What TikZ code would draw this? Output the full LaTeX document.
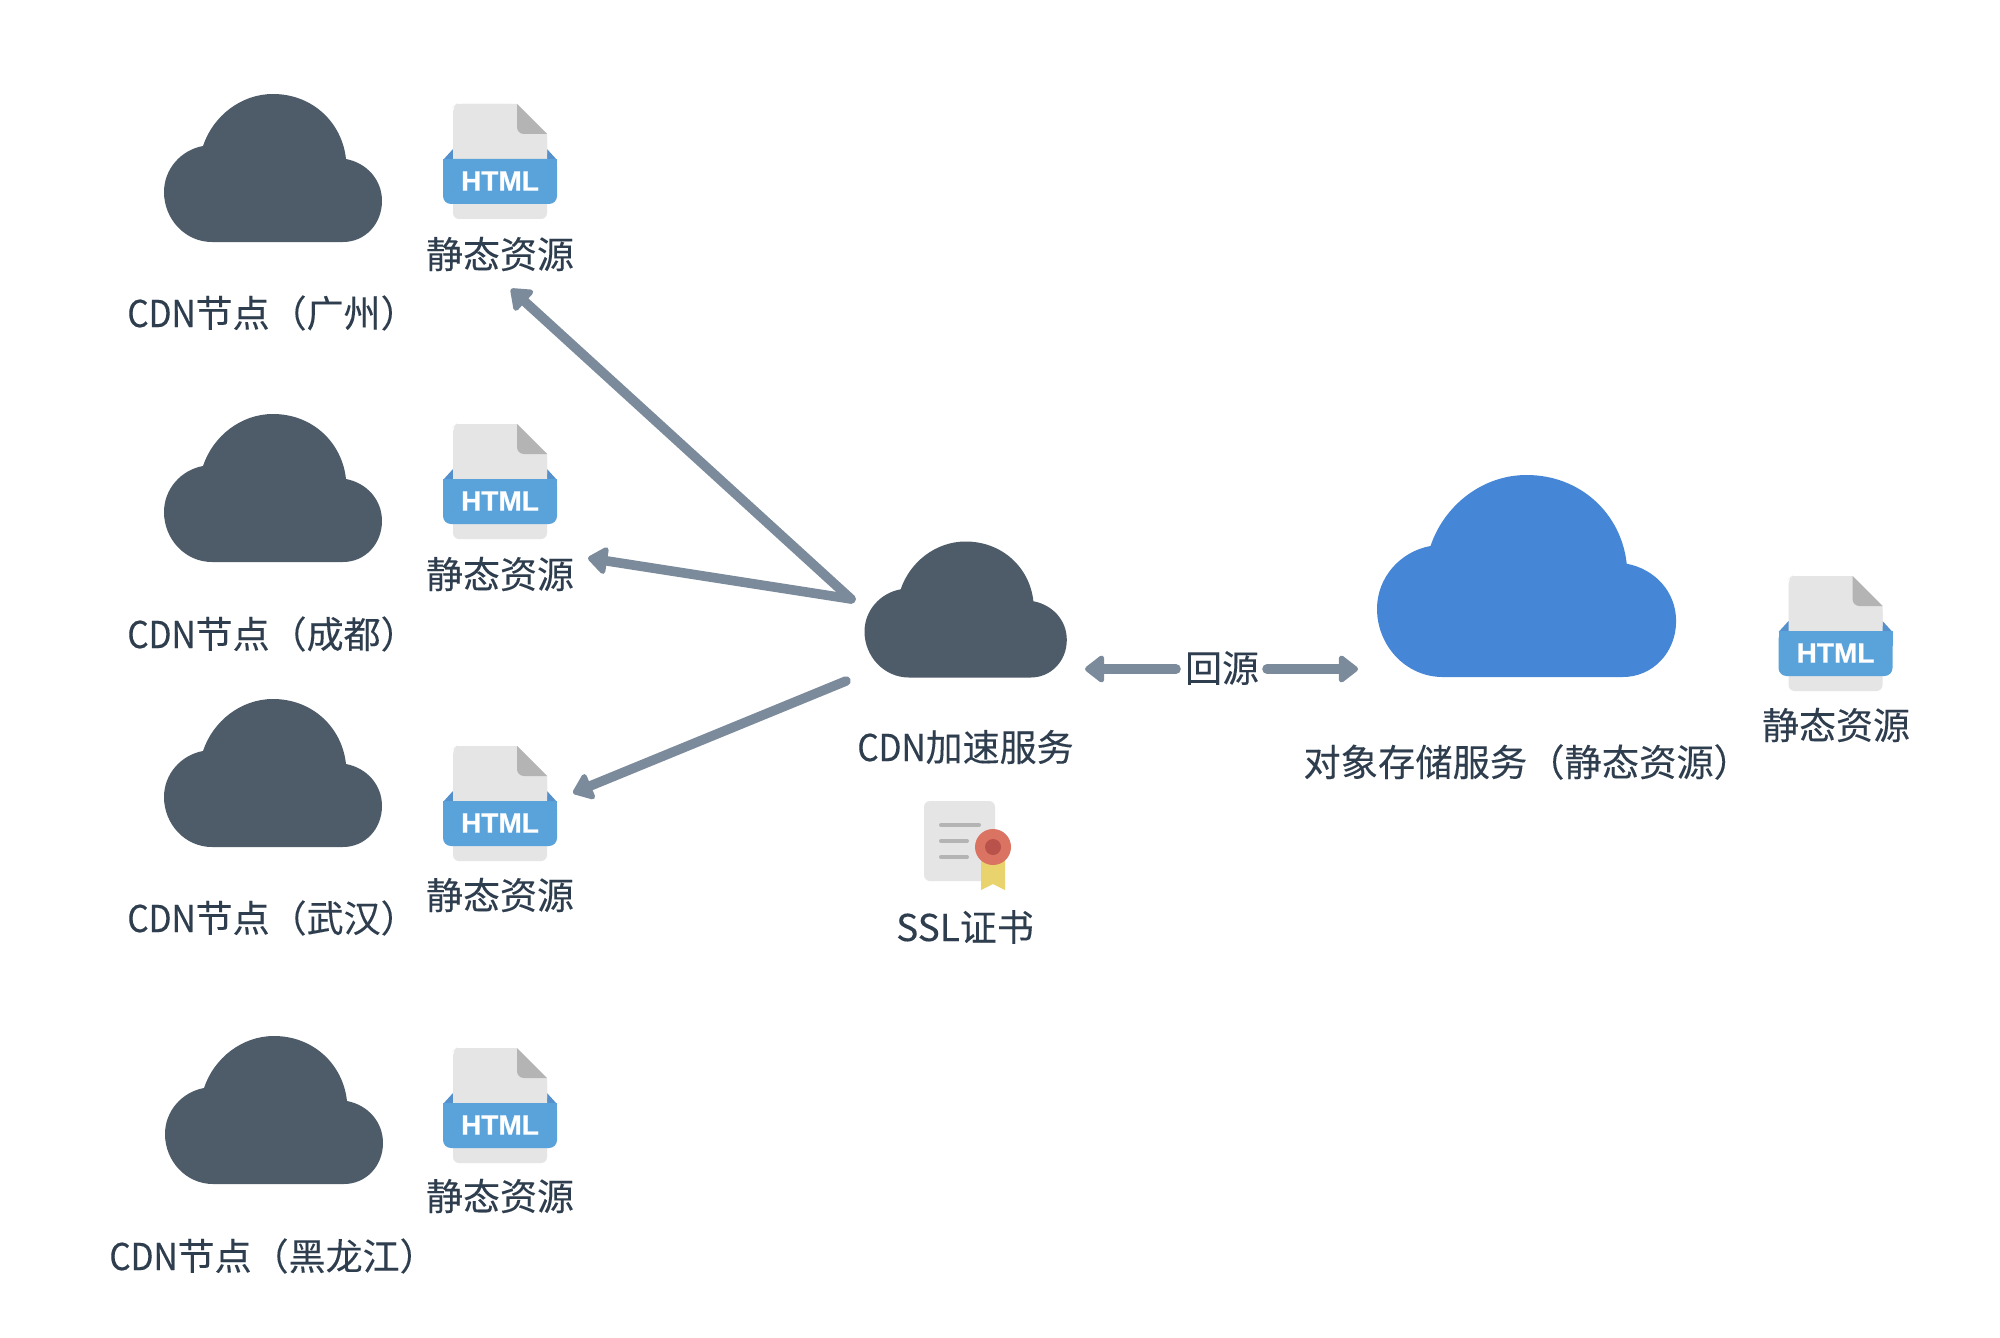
\documentclass[tikz,border=0pt]{standalone}
\usepackage{fontspec}
\setmainfont{Noto Sans CJK SC}[FakeBold=0.15]
\newfontfamily\latfont{Noto Sans CJK SC}[FakeStretch=0.9,FakeBold=0.25]
\newfontfamily\htmlfont{Liberation Sans Bold}[FakeBold=0.7]
\usetikzlibrary{arrows.meta}
\definecolor{cloudgray}{HTML}{4E5C6A}
\definecolor{cloudblue}{HTML}{4686D6}
\definecolor{arrowgray}{HTML}{7C8B9B}
\definecolor{labelcol}{HTML}{2F3E4E}
\definecolor{paper}{HTML}{E5E5E5}
\definecolor{fold}{HTML}{B4B4B4}
\definecolor{band}{HTML}{5AA3DA}
\definecolor{wing}{HTML}{5490CC}
\definecolor{seal}{HTML}{DB7362}
\definecolor{sealin}{HTML}{B9524B}
\definecolor{ribbon}{HTML}{E9D36C}
\tikzset{
  lbl/.style={text=labelcol,font=\fontsize{18.5}{22}\selectfont,inner sep=0pt},
  flow/.style={draw=arrowgray,line width=4.8pt,line cap=round,line join=round,
    -{Triangle[length=10.5pt,width=15.5pt,round]}},
  cloudpic/.pic={
    \fill[pic actions] (48,148) .. controls (21,148) and (0,125) .. (0,98)
      .. controls (0,75) and (17,56) .. (39,52)
      .. controls (49,22) and (77,0) .. (109,0)
      .. controls (148,0) and (178,28) .. (182,65)
      .. controls (203,69) and (218,86) .. (218,107)
      .. controls (218,130) and (201,148) .. (179,148) -- cycle;
  },
  htmlpic/.pic={
    \fill[wing] (-10,56) -- (0,45) -- (94,45) -- (104,56) -- cycle;
    \fill[paper,rounded corners=3] (0,3) -- (0,115) -- (94,115) -- (94,30) -- (64,0) -- (3,0) -- cycle;
    \fill[paper] (64,0) -- (94,30) -- (94,50) -- (3,50) -- (3,0) -- cycle;
    \fill[fold] (64,0) -- (94,30) -- (71,30) .. controls (67,30) and (64,27) .. (64,23) -- cycle;
    \fill[band,rounded corners=4] (-10,55) -- (-10,100) -- (104,100) -- (104,55) -- cycle;
    \fill[band] (-10,55) rectangle (104,70);
    \node[text=white,inner sep=0pt,font=\htmlfont\fontsize{14}{14}\selectfont] at (47,77) {HTML};
  }
}
\begin{document}
\begin{tikzpicture}[x=.5pt,y=-.5pt]
\useasboundingbox (0,0) rectangle (2000,1337);
\fill[white] (0,0) rectangle (2000,1337);

% edge clouds
\pic[fill=cloudgray] at (164,94) {cloudpic};
\pic[fill=cloudgray] at (164,414) {cloudpic};
\pic[fill=cloudgray] at (164,699) {cloudpic};
\pic[fill=cloudgray] at (165,1036) {cloudpic};
% html icons
\pic at (453,104) {htmlpic};
\pic at (453,424) {htmlpic};
\pic at (453,746) {htmlpic};
\pic at (453,1048) {htmlpic};
\pic at (1788.5,576) {htmlpic};
% centre and storage clouds
\pic[fill=cloudgray,xscale=.928,yscale=.919] at (864.5,541.5) {cloudpic};
\pic[fill=cloudblue,xscale=1.372,yscale=1.365] at (1377,475) {cloudpic};

% certificate
\fill[paper,rounded corners=3] (924,801) rectangle (995,881);
\foreach \yy/\xx in {825/979,841/967,857/967}
  \draw[fold,line width=2pt,line cap=round] (941,\yy) -- (\xx,\yy);
\fill[ribbon] (981,855) -- (1005,855) -- (1005,890) -- (993,884) -- (981,890) -- cycle;
\fill[seal] (993,847) circle[radius=18];
\fill[sealin] (993,847) circle[radius=8];

% labels
\node[lbl,anchor=west] (gz) at (127,313) {{\latfont CDN}节点（广州）};
\node[lbl,anchor=west] (cd) at (127,634) {{\latfont CDN}节点（成都）};
\node[lbl,anchor=west] (wh) at (127,918) {{\latfont CDN}节点（武汉）};
\node[lbl,anchor=west] (hlj) at (109,1256) {{\latfont CDN}节点（黑龙江）};
\node[lbl] (s1) at (500,254) {静态资源};
\node[lbl] (s2) at (500,574) {静态资源};
\node[lbl] (s3) at (500,895) {静态资源};
\node[lbl] (s4) at (500,1196) {静态资源};
\node[lbl] (s5) at (1836,725) {静态资源};
\node[lbl] (cdn) at (965.5,747) {{\latfont CDN}加速服务};
\node[lbl] (ssl) at (965,927) {SSL证书};
\node[lbl,anchor=west,font=\fontsize{18.65}{22}\selectfont] (oss) at (1303,762) {对象存储服务（静态资源）};
\node[lbl] (back) at (1222,668) {回源};

% connector ends
\coordinate (hub) at (851,599);
\coordinate (hubb) at (846,681);
\coordinate (t1) at (511,289);
\coordinate (t2) at (588,558);
\coordinate (t3) at (573,793);
\coordinate (bl) at (1176,669);
\coordinate (bltip) at (1085,669);
\coordinate (br) at (1267,669);
\coordinate (brtip) at (1358,669);
\draw[flow] (hub) -- (t1);
\draw[flow] (hub) -- (t2);
\draw[flow] (hubb) -- (t3);
\draw[flow] (bl) -- (bltip);
\draw[flow] (br) -- (brtip);
\end{tikzpicture}
\end{document}
